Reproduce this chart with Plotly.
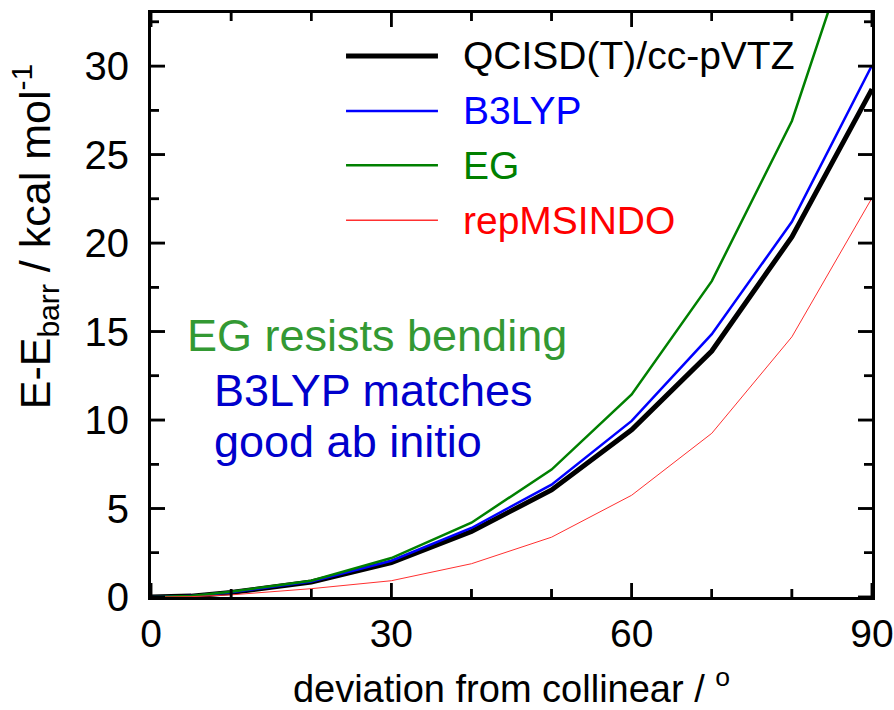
import plotly.graph_objects as go

# Data
angle = [0, 5, 10, 15, 20, 30, 40, 50, 60, 70, 80, 90]
qcisd = [0, 0.05, 0.25, 0.55, 0.85, 1.95, 3.7, 6.05, 9.45, 13.9, 20.35, 28.7]
b3lyp = [0, 0.05, 0.27, 0.58, 0.88, 2.05, 3.9, 6.35, 9.95, 14.85, 21.2, 30.05]
eg = [0, 0.06, 0.3, 0.62, 0.92, 2.2, 4.2, 7.2, 11.45, 17.85, 26.9, 40.5]
repmsindo = [0, 0.02, 0.12, 0.3, 0.47, 0.92, 1.88, 3.38, 5.75, 9.25, 14.7, 22.55]

series_names = ["QCISD(T)/cc-pVTZ", "B3LYP", "EG", "repMSINDO"]
series_values = [qcisd, b3lyp, eg, repmsindo]
series_colors = ["#000000", "#0000ff", "#008000", "#ff3030"]
series_widths = [5, 2.5, 2.5, 1]
text_colors = ["#000000", "#0000ff", "#008000", "#ff0000"]

x_ticks = [0, 30, 60, 90]
x_minor = [10, 20, 40, 50, 70, 80]
y_ticks = [0, 5, 10, 15, 20, 25, 30]
y_minor = [2.5, 7.5, 12.5, 17.5, 22.5, 27.5, 32.5]
y_ticklabels = [f"{v}\u00a0" for v in y_ticks]

X_RANGE = [0, 90]
Y_RANGE = [0, 33]

FONT = "Liberation Sans, Arial, sans-serif"

W, H = 894, 710
ML, MR, MT, MB = 151, 22, 13, 113
PW, PH = W - ML - MR, H - MT - MB
MAJ, MIN, TW = 14, 8, 2.5

# pixel length -> data units
xu = (X_RANGE[1] - X_RANGE[0]) / PW
yu = (Y_RANGE[1] - Y_RANGE[0]) / PH


def xpaper(v):
    return (v - X_RANGE[0]) / (X_RANGE[1] - X_RANGE[0])


def ypaper(v):
    return (v - Y_RANGE[0]) / (Y_RANGE[1] - Y_RANGE[0])


fig = go.Figure()
for name, vals, col, w in zip(series_names, series_values, series_colors, series_widths):
    fig.add_trace(go.Scatter(x=angle, y=vals, mode="lines", name=name,
                             line=dict(color=col, width=w), showlegend=False))

shapes = []
# Inside tick marks on all four sides (one short line trace per tick + paper shapes)
for vals, ln in ((x_ticks, MAJ), (x_minor, MIN)):
    for v in vals:
        for ya, yb in ((Y_RANGE[0], Y_RANGE[0] + ln * yu), (Y_RANGE[1], Y_RANGE[1] - ln * yu)):
            fig.add_trace(go.Scatter(x=[v, v], y=[ya, yb], mode="lines",
                                     line=dict(color="black", width=TW),
                                     hoverinfo="skip", showlegend=False))
        for p0, p1 in ((0, ln / PH), (1, 1 - ln / PH)):
            shapes.append(dict(type="line", xref="paper", yref="paper",
                               x0=xpaper(v), x1=xpaper(v), y0=p0, y1=p1,
                               line=dict(color="black", width=TW)))
for vals, ln in ((y_ticks, MAJ), (y_minor, MIN)):
    for v in vals:
        for xa, xb in ((X_RANGE[0], X_RANGE[0] + ln * xu), (X_RANGE[1], X_RANGE[1] - ln * xu)):
            fig.add_trace(go.Scatter(x=[xa, xb], y=[v, v], mode="lines",
                                     line=dict(color="black", width=TW),
                                     hoverinfo="skip", showlegend=False))
        for p0, p1 in ((0, ln / PW), (1, 1 - ln / PW)):
            shapes.append(dict(type="line", xref="paper", yref="paper",
                               x0=p0, x1=p1, y0=ypaper(v), y1=ypaper(v),
                               line=dict(color="black", width=TW)))

# Custom legend (long line samples as in the reference)
legend_y = [0.9264, 0.8322, 0.7392, 0.645]
annotations = []
for name, col, w, tc, ly in zip(series_names, series_colors, series_widths, text_colors, legend_y):
    shapes.append(dict(type="line", xref="paper", yref="paper", x0=0.2705, x1=0.398,
                       y0=ly, y1=ly, line=dict(color=col, width=max(w, 1.5))))
    annotations.append(dict(xref="paper", yref="paper", x=0.43, y=ly, text=name,
                            showarrow=False, xanchor="left", yanchor="middle",
                            font=dict(family=FONT, size=39, color=tc)))

annotations += [
    dict(xref="paper", yref="paper", x=0.047, y=0.448, text="EG resists bending",
         showarrow=False, xanchor="left", yanchor="middle",
         font=dict(family=FONT, size=45, color="#339933")),
    dict(xref="paper", yref="paper", x=0.0846, y=0.354, text="B3LYP matches",
         showarrow=False, xanchor="left", yanchor="middle",
         font=dict(family=FONT, size=45, color="#0000cc")),
    dict(xref="paper", yref="paper", x=0.0846, y=0.2666, text="good ab initio",
         showarrow=False, xanchor="left", yanchor="middle",
         font=dict(family=FONT, size=45, color="#0000cc")),
    # y-axis title (placed as in the reference, above centre)
    dict(xref="paper", yref="paper", x=(35 - ML) / PW, y=(596.7 - 236) / PH,
         text="E-E<sub>barr</sub> / kcal mol<sup>-1</sup>", textangle=-90,
         showarrow=False, xanchor="center", yanchor="middle",
         font=dict(family=FONT, size=43, color="black")),
]

fig.update_layout(
    width=W, height=H,
    margin=dict(l=ML, r=MR, t=MT, b=MB, autoexpand=False),
    paper_bgcolor="white", plot_bgcolor="white",
    xaxis=dict(range=X_RANGE, tickmode="array", tickvals=x_ticks,
               ticktext=[str(v) for v in x_ticks], automargin=False,
               showline=True, linecolor="black", linewidth=3, mirror=True,
               ticks="", showgrid=False, zeroline=False, ticklabeloverflow="allow",
               tickfont=dict(family=FONT, size=39, color="black"),
               title=dict(text="deviation from collinear / <sup>o</sup>",
                          font=dict(family=FONT, size=38, color="black"), standoff=30)),
    yaxis=dict(range=Y_RANGE, tickmode="array", tickvals=y_ticks, ticktext=y_ticklabels,
               automargin=False,
               showline=True, linecolor="black", linewidth=3, mirror=True,
               ticks="", showgrid=False, zeroline=False,
               tickfont=dict(family=FONT, size=40, color="black")),
    shapes=shapes,
    annotations=annotations,
)

fig.write_html("out.html")
